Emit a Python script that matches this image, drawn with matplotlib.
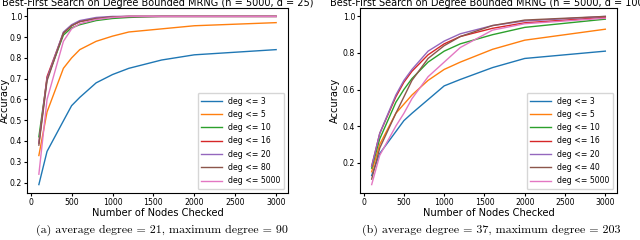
import matplotlib

matplotlib.use("Agg")
import matplotlib.pyplot as plt

steps = [100, 200, 400, 500, 600, 800, 1000, 1200, 1600, 2000, 3000]

labels_a = ["deg <= 3", "deg <= 5", "deg <= 10", "deg <= 16", "deg <= 20", "deg <= 80", "deg <= 5000"]
acc_a = [
    [0.19, 0.35, 0.497, 0.57, 0.61, 0.68, 0.72, 0.75, 0.79, 0.815, 0.84],
    [0.33, 0.54, 0.75, 0.80, 0.84, 0.88, 0.905, 0.925, 0.94, 0.955, 0.97],
    [0.42, 0.70, 0.91, 0.945, 0.96, 0.98, 0.99, 0.995, 1.0, 1.0, 1.0],
    [0.39, 0.71, 0.92, 0.955, 0.975, 0.99, 0.997, 1.0, 1.0, 1.0, 1.0],
    [0.39, 0.70, 0.925, 0.96, 0.98, 0.995, 1.0, 1.0, 1.0, 1.0, 1.0],
    [0.38, 0.69, 0.92, 0.955, 0.975, 0.99, 0.998, 1.0, 1.0, 1.0, 1.0],
    [0.24, 0.60, 0.88, 0.94, 0.965, 0.985, 0.995, 1.0, 1.0, 1.0, 1.0],
]

labels_b = ["deg <= 3", "deg <= 5", "deg <= 10", "deg <= 16", "deg <= 20", "deg <= 40", "deg <= 5000"]
acc_b = [
    [0.13, 0.25, 0.37, 0.43, 0.47, 0.545, 0.62, 0.655, 0.72, 0.77, 0.81],
    [0.15, 0.30, 0.47, 0.52, 0.57, 0.65, 0.71, 0.75, 0.82, 0.87, 0.93],
    [0.17, 0.33, 0.53, 0.60, 0.66, 0.75, 0.81, 0.85, 0.90, 0.94, 0.985],
    [0.18, 0.36, 0.56, 0.64, 0.70, 0.79, 0.85, 0.89, 0.935, 0.965, 0.995],
    [0.18, 0.36, 0.57, 0.65, 0.71, 0.81, 0.865, 0.905, 0.95, 0.975, 1.0],
    [0.11, 0.28, 0.47, 0.56, 0.65, 0.77, 0.84, 0.89, 0.95, 0.98, 1.0],
    [0.08, 0.24, 0.40, 0.47, 0.55, 0.67, 0.75, 0.83, 0.925, 0.96, 0.99],
]

title_a = "Best-First Search on Degree Bounded MRNG (n = 5000, d = 25)"
title_b = "Best-First Search on Degree Bounded MRNG (n = 5000, d = 100)"
caption_a = "(a) average degree = 21, maximum degree = 90"
caption_b = "(b) average degree = 37, maximum degree = 203"


def plot_panel(ax, labels, accuracies, title, yticks, ylabel_x):
    for label, acc in zip(labels, accuracies):
        ax.plot(steps, acc, linewidth=1.0, label=label)

    ax.set_title(title, fontsize=7.0, pad=1.5)
    ax.set_xlabel("Number of Nodes Checked", fontsize=7.1, labelpad=1)
    ax.set_ylabel("Accuracy", fontsize=7.1)
    ax.yaxis.set_label_coords(ylabel_x, 0.5)
    ax.set_xticks(range(0, 3001, 500))
    ax.set_yticks(yticks)
    ax.tick_params(labelsize=5.6, length=2, pad=1.5)
    ax.legend(loc="lower right", fontsize=5.6, handlelength=2.6, labelspacing=0.55, borderpad=0.5)


fig = plt.figure(figsize=(6.4, 2.4), dpi=100)

ax_a = fig.add_axes([27 / 640, 1 - 193 / 240, 261 / 640, 185 / 240])
plot_panel(ax_a, labels_a, acc_a, title_a, [0.2, 0.3, 0.4, 0.5, 0.6, 0.7, 0.8, 0.9, 1.0], -17 / 261)

ax_b = fig.add_axes([360 / 640, 1 - 193 / 240, 257 / 640, 185 / 240])
plot_panel(ax_b, labels_b, acc_b, title_b, [0.2, 0.4, 0.6, 0.8, 1.0], -20 / 257)

fig.text(162 / 640, 1 - 230 / 240, caption_a, fontsize=8.6, family="cmr10", ha="center", va="center")
fig.text(491 / 640, 1 - 230 / 240, caption_b, fontsize=8.6, family="cmr10", ha="center", va="center")

fig.savefig("out.png", dpi=100)
